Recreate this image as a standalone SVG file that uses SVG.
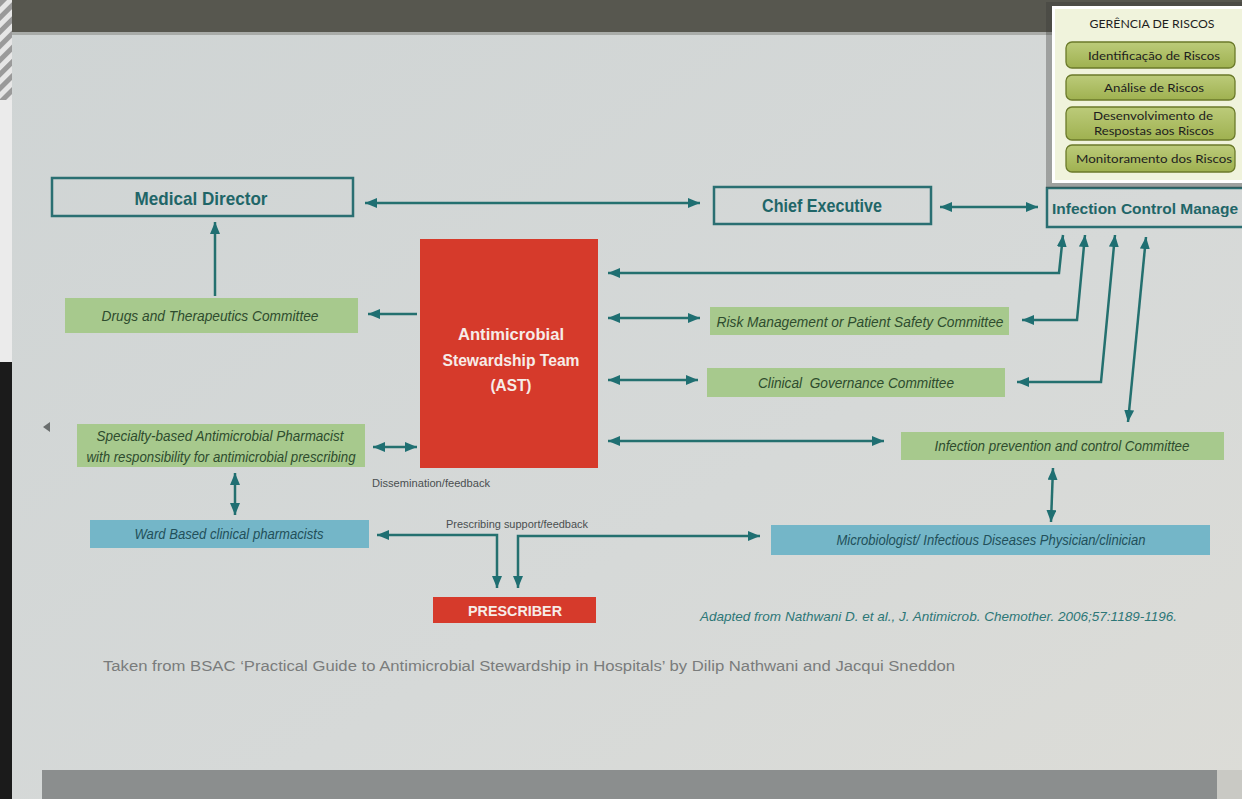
<svg xmlns="http://www.w3.org/2000/svg" width="1242" height="799" viewBox="0 0 1242 799">
<defs>
<linearGradient id="bg" x1="0" y1="0" x2="1" y2="1">
<stop offset="0" stop-color="#cfd4d4"/>
<stop offset="0.6" stop-color="#d6d9d8"/>
<stop offset="1" stop-color="#dcdcd7"/>
</linearGradient>
<linearGradient id="olive" x1="0" y1="0" x2="0" y2="1">
<stop offset="0" stop-color="#bccb7a"/>
<stop offset="1" stop-color="#9fb150"/>
</linearGradient>
<pattern id="stripes" width="10" height="10" patternUnits="userSpaceOnUse" patternTransform="rotate(45)">
<rect width="10" height="10" fill="#e6e6e6"/>
<rect width="5" height="10" fill="#9a9a9a"/>
</pattern>
<marker id="ah" viewBox="0 0 12 10" refX="12" refY="5" markerWidth="12" markerHeight="10" markerUnits="userSpaceOnUse" orient="auto-start-reverse">
<path d="M0,0 L12,5 L0,10 Z" fill="#1f6f72"/>
</marker>
<style>
.title{font-family:"Liberation Sans Narrow","Liberation Sans",Arial,sans-serif;font-weight:bold;fill:#1f6668;}
.outline{fill:none;stroke:#2a6f72;stroke-width:2.5;}
.green{fill:#a7c98d;}
.blue{fill:#74b6c8;}
.red{fill:#d63a2b;}
.gtxt{font-family:"Liberation Sans Narrow","Liberation Sans",Arial,sans-serif;font-style:italic;font-size:14px;fill:#2e4c2e;}
.btxt{font-family:"Liberation Sans Narrow","Liberation Sans",Arial,sans-serif;font-style:italic;font-size:14px;fill:#22505a;}
.wtxt{font-family:"Liberation Sans Narrow","Liberation Sans",Arial,sans-serif;font-weight:bold;fill:#f6ece8;}
.small{font-family:"Liberation Sans Narrow","Liberation Sans",Arial,sans-serif;font-size:10px;fill:#4a4f50;}
.conn{fill:none;stroke:#24706f;stroke-width:2.5;marker-end:url(#ah);}
.both{marker-start:url(#ah);}
.ptxt{font-family:Lato,"Open Sans","Liberation Sans",sans-serif;font-size:12px;fill:#1e1e1e;}
.pbox{fill:url(#olive);stroke:#6b7a2a;stroke-width:1.3;}
</style>
</defs>

<!-- background photo of screen -->
<rect x="0" y="0" width="1242" height="799" fill="url(#bg)"/>
<rect x="12" y="0" width="1230" height="32" fill="#57574f"/>
<rect x="12" y="32" width="1230" height="3" fill="#8e8f8a" opacity="0.6"/>
<rect x="0" y="0" width="12" height="100" fill="url(#stripes)"/>
<rect x="0" y="100" width="12" height="262" fill="#ebebeb"/>
<rect x="0" y="362" width="12" height="437" fill="#1b1b1b"/>
<rect x="42" y="770" width="1175" height="29" fill="#8b8e8e"/>
<rect x="1217" y="770" width="25" height="29" fill="#c9c9c4"/>
<polygon points="43,427 50,422 50,432" fill="#6a6e6e"/>

<!-- connectors -->
<g id="connectors">
<path class="conn both" d="M365,203 L700,203"/>
<path class="conn both" d="M940,207 L1038,207"/>
<path class="conn" d="M215,296 L215,222"/>
<path class="conn" d="M417,314 L368,314"/>
<path class="conn both" d="M373,447 L417,447"/>
<path class="conn both" d="M235,473 L235,515"/>
<path class="conn both" d="M608,318 L700,318"/>
<path class="conn both" d="M608,380 L698,380"/>
<path class="conn both" d="M608,441 L884,441"/>
<path class="conn both" d="M1063,235 L1059,273 L608,273"/>
<path class="conn both" d="M1085,235 L1077,320 L1022,320"/>
<path class="conn both" d="M1115,235 L1101,382 L1017,382"/>
<path class="conn both" d="M1146,237 L1128,422"/>
<path class="conn both" d="M1053,468 L1051,522"/>
<path class="conn both" d="M377,535 L497,535 L497,588"/>
<path class="conn both" d="M760,536 L518,536 L518,588"/>
</g>

<!-- nodes -->
<g id="medical-director">
<rect class="outline" x="52" y="178" width="301" height="38"/>
<text class="title" x="201" y="205" font-size="19" text-anchor="middle" textLength="133" lengthAdjust="spacingAndGlyphs">Medical Director</text>
</g>
<g id="chief-executive">
<rect class="outline" x="714" y="187" width="217" height="37"/>
<text class="title" x="822" y="212" font-size="19" text-anchor="middle" textLength="120" lengthAdjust="spacingAndGlyphs">Chief Executive</text>
</g>
<g id="infection-control-manager">
<path class="outline" d="M1242,188 H1047 V227 H1242"/>
<text class="title" x="1052" y="214" font-size="15.5" textLength="186" lengthAdjust="spacingAndGlyphs">Infection Control Manage</text>
</g>
<g id="ast">
<rect class="red" x="420" y="239" width="178" height="229"/>
<text class="wtxt" x="511" y="340" font-size="17" text-anchor="middle" textLength="106" lengthAdjust="spacingAndGlyphs">Antimicrobial</text>
<text class="wtxt" x="511" y="366" font-size="17" text-anchor="middle" textLength="137" lengthAdjust="spacingAndGlyphs">Stewardship Team</text>
<text class="wtxt" x="511" y="391" font-size="17" text-anchor="middle" textLength="41" lengthAdjust="spacingAndGlyphs">(AST)</text>
</g>
<g id="drugs-therapeutics">
<rect class="green" x="65" y="298" width="293" height="35"/>
<text class="gtxt" x="210" y="321" text-anchor="middle" textLength="217" lengthAdjust="spacingAndGlyphs">Drugs and Therapeutics Committee</text>
</g>
<g id="risk-management">
<rect class="green" x="710" y="307" width="299" height="28"/>
<text class="gtxt" x="860" y="327" text-anchor="middle" textLength="287" lengthAdjust="spacingAndGlyphs">Risk Management or Patient Safety Committee</text>
</g>
<g id="clinical-governance">
<rect class="green" x="707" y="368" width="298" height="29"/>
<text class="gtxt" x="856" y="388" text-anchor="middle" textLength="196" lengthAdjust="spacingAndGlyphs" xml:space="preserve">Clinical  Governance Committee</text>
</g>
<g id="specialty-pharmacist">
<rect class="green" x="77" y="424" width="288" height="43"/>
<text class="gtxt" x="220" y="441" text-anchor="middle" textLength="247" lengthAdjust="spacingAndGlyphs">Specialty-based Antimicrobial Pharmacist</text>
<text class="gtxt" x="221" y="462" text-anchor="middle" textLength="269" lengthAdjust="spacingAndGlyphs">with responsibility for antimicrobial prescribing</text>
</g>
<g id="infection-prevention">
<rect class="green" x="901" y="432" width="323" height="28"/>
<text class="gtxt" x="1062" y="451" text-anchor="middle" textLength="255" lengthAdjust="spacingAndGlyphs">Infection prevention and control Committee</text>
</g>
<g id="ward-pharmacists">
<rect class="blue" x="90" y="520" width="279" height="28"/>
<text class="btxt" x="229" y="539" text-anchor="middle" textLength="189" lengthAdjust="spacingAndGlyphs">Ward Based clinical pharmacists</text>
</g>
<g id="microbiologist">
<rect class="blue" x="771" y="525" width="439" height="30"/>
<text class="btxt" x="991" y="545" text-anchor="middle" textLength="309" lengthAdjust="spacingAndGlyphs">Microbiologist/ Infectious Diseases Physician/clinician</text>
</g>
<g id="prescriber">
<rect class="red" x="433" y="597" width="163" height="26"/>
<text class="wtxt" x="515" y="616" font-size="15" text-anchor="middle" textLength="94" lengthAdjust="spacingAndGlyphs">PRESCRIBER</text>
</g>

<!-- labels -->
<g id="labels">
<text class="small" x="372" y="487" textLength="118" lengthAdjust="spacingAndGlyphs">Dissemination/feedback</text>
<text class="small" x="446" y="528" textLength="142" lengthAdjust="spacingAndGlyphs">Prescribing support/feedback</text>
<text x="700" y="621" font-family="'Liberation Sans Narrow','Liberation Sans',Arial,sans-serif" font-style="italic" font-size="13" fill="#2d7777" textLength="477" lengthAdjust="spacingAndGlyphs">Adapted from Nathwani D. et al., J. Antimicrob. Chemother. 2006;57:1189-1196.</text>
<text x="103" y="671" font-family="'Liberation Sans Narrow','Liberation Sans',Arial,sans-serif" font-size="14" fill="#7a7c7c" textLength="852" lengthAdjust="spacingAndGlyphs">Taken from BSAC ‘Practical Guide to Antimicrobial Stewardship in Hospitals’ by Dilip Nathwani and Jacqui Sneddon</text>
</g>

<!-- overlay panel -->
<g id="risk-panel">
<rect x="1046" y="2" width="196" height="186" fill="#3a3a36" opacity="0.35"/>
<rect x="1052" y="6" width="190" height="177" fill="#ffffff"/>
<rect x="1055" y="9" width="187" height="171" fill="#f0f3dc"/>
<text class="ptxt" x="1152" y="28" text-anchor="middle" textLength="125" lengthAdjust="spacingAndGlyphs">GERÊNCIA DE RISCOS</text>
<g id="panel-identificacao">
<rect class="pbox" x="1066" y="42" width="169" height="26" rx="6"/>
<text class="ptxt" x="1154" y="60" text-anchor="middle" textLength="132" lengthAdjust="spacingAndGlyphs">Identificação de Riscos</text>
</g>
<g id="panel-analise">
<rect class="pbox" x="1066" y="75" width="169" height="25" rx="6"/>
<text class="ptxt" x="1154" y="92" text-anchor="middle" textLength="100" lengthAdjust="spacingAndGlyphs">Análise de Riscos</text>
</g>
<g id="panel-desenvolvimento">
<rect class="pbox" x="1066" y="107" width="169" height="33" rx="6"/>
<text class="ptxt" x="1153" y="120" text-anchor="middle" textLength="120" lengthAdjust="spacingAndGlyphs">Desenvolvimento de</text>
<text class="ptxt" x="1154" y="135" text-anchor="middle" textLength="120" lengthAdjust="spacingAndGlyphs">Respostas aos Riscos</text>
</g>
<g id="panel-monitoramento">
<rect class="pbox" x="1066" y="145" width="169" height="27" rx="6"/>
<text class="ptxt" x="1154" y="163" text-anchor="middle" textLength="156" lengthAdjust="spacingAndGlyphs">Monitoramento dos Riscos</text>
</g>
</g>
</svg>
